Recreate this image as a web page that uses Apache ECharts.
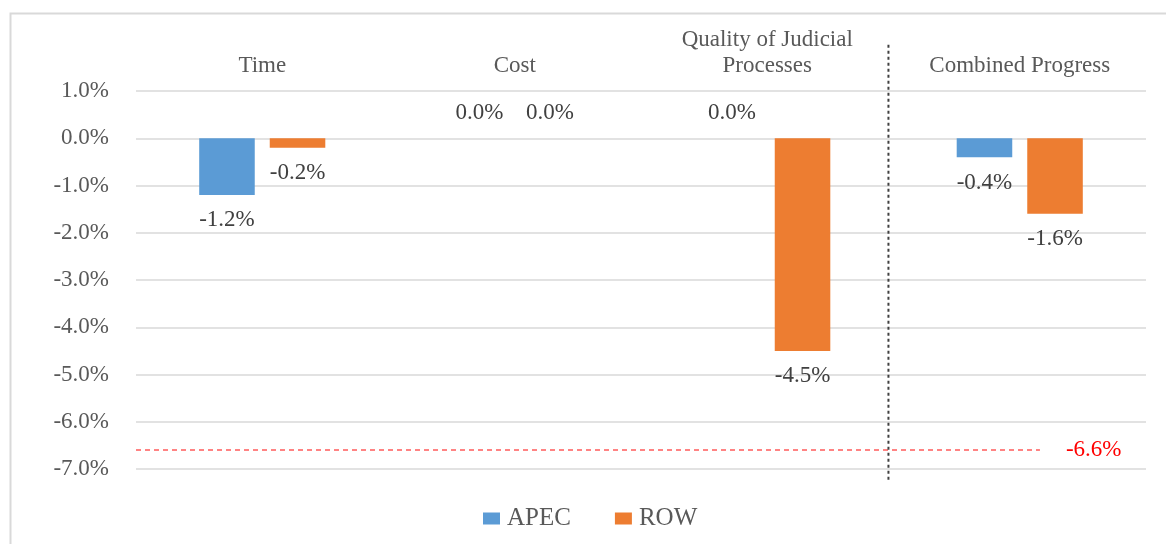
<!DOCTYPE html>
<html>
<head>
<meta charset="utf-8">
<script src="https://cdn.jsdelivr.net/npm/echarts@6/dist/echarts.min.js"></script>
<style>
  html, body { margin: 0; padding: 0; background: #ffffff; }
  #chart { width: 1166px; height: 544px; }
</style>
</head>
<body>
<div id="chart"></div>
<script>
// Categories and series values (percent change)
const categories = ['Time', 'Cost', 'Quality of Judicial\nProcesses', 'Combined Progress'];
const apecValues = [-1.2, 0.0, 0.0, -0.4];
const rowValues = [-0.2, 0.0, -4.5, -1.6];

// Value-axis ticks
const yMin = -7;
const yMax = 1;
const yStep = 1;

// Reference threshold line and the divider before the combined column
const thresholdValue = -6.6;
const thresholdSpan = [0, 3.58];   // in category-band units
const dividerPos = 2.98;           // in category-band units
const dividerSpan = [1.98, -7.23]; // value range covered by the divider

const FONT = 'Liberation Serif';
const AXIS_TEXT = '#595959';
const LABEL_TEXT = '#404040';

function pct(v) { return v.toFixed(1) + '%'; }

function barData(values) {
  return values.map(v => ({
    value: v,
    label: { position: v >= 0 ? 'top' : 'bottom' }
  }));
}

const chart = echarts.init(document.getElementById('chart'), null, { renderer: 'canvas' });

chart.setOption({
  animation: false,
  backgroundColor: '#ffffff',
  textStyle: { fontFamily: FONT },
  graphic: [{
    type: 'rect',
    left: 8, top: 11,
    shape: { width: 1200, height: 600 },
    style: { fill: 'none', stroke: '#D9D9D9', lineWidth: 2 },
    silent: true,
    z: -10
  }],
  grid: { left: 136, right: 20, top: 91, bottom: 75 },
  legend: {
    data: ['APEC', 'ROW'],
    left: 478,
    bottom: 8,
    itemWidth: 17,
    itemHeight: 12,
    itemGap: 44,
    icon: 'rect',
    textStyle: { fontFamily: FONT, fontSize: 25, color: AXIS_TEXT, padding: [2, 0, 0, 2] }
  },
  xAxis: [{
    type: 'category',
    data: categories,
    position: 'top',
    axisLine: { show: false },
    axisTick: { show: false },
    splitLine: { show: false },
    axisLabel: {
      interval: 0,
      margin: 12,
      fontFamily: FONT,
      fontSize: 23,
      lineHeight: 26,
      color: AXIS_TEXT
    }
  }, {
    type: 'value',
    min: 0,
    max: 4,
    show: false
  }],
  yAxis: {
    type: 'value',
    min: yMin,
    max: yMax,
    interval: yStep,
    axisLine: { show: false },
    axisTick: { show: false },
    splitLine: { lineStyle: { color: '#D9D9D9', width: 1.5 } },
    axisLabel: {
      margin: 27,
      fontFamily: FONT,
      fontSize: 23,
      color: AXIS_TEXT,
      formatter: pct
    }
  },
  series: [{
    name: 'APEC',
    type: 'bar',
    data: barData(apecValues),
    barWidth: '22%',
    barGap: '27%',
    itemStyle: { color: '#5B9BD5' },
    label: {
      show: true,
      distance: 14,
      fontFamily: FONT,
      fontSize: 23,
      color: LABEL_TEXT,
      formatter: p => pct(p.value)
    }
  }, {
    name: 'ROW',
    type: 'bar',
    data: barData(rowValues),
    barWidth: '22%',
    barGap: '27%',
    itemStyle: { color: '#ED7D31' },
    label: {
      show: true,
      distance: 14,
      fontFamily: FONT,
      fontSize: 23,
      color: LABEL_TEXT,
      formatter: p => pct(p.value)
    }
  }, {
    name: 'threshold',
    type: 'line',
    xAxisIndex: 1,
    data: [[thresholdSpan[0], thresholdValue], [thresholdSpan[1], thresholdValue]],
    symbol: 'none',
    silent: true,
    lineStyle: { color: '#FF5B5B', width: 1.5, type: [5, 4] },
    endLabel: {
      show: true,
      distance: 26,
      fontFamily: FONT,
      fontSize: 23,
      color: '#FF0000',
      formatter: () => pct(thresholdValue)
    },
    z: 3
  }, {
    name: 'divider',
    type: 'line',
    xAxisIndex: 1,
    data: [[dividerPos, dividerSpan[0]], [dividerPos, dividerSpan[1]]],
    symbol: 'none',
    silent: true,
    clip: false,
    lineStyle: { color: '#404040', width: 2, type: [3, 3] },
    z: 4
  }]
});
</script>
</body>
</html>
